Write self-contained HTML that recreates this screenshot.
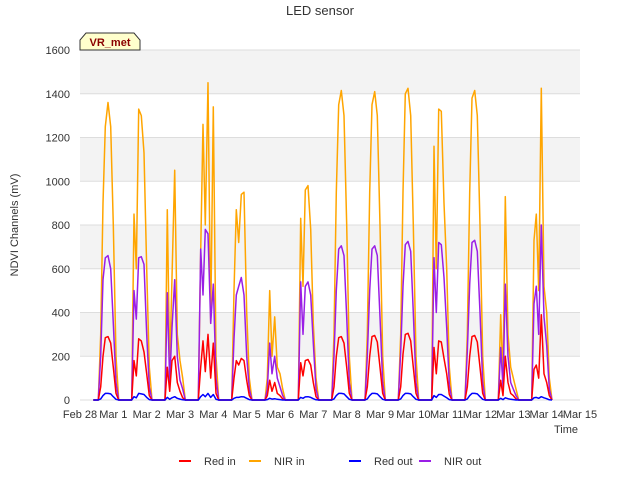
<!DOCTYPE html>
<html><head><meta charset="utf-8"><style>
body{margin:0;background:#fff;font-family:"Liberation Sans",sans-serif}
</style></head><body>
<svg id="chart" width="640" height="480" xmlns="http://www.w3.org/2000/svg" font-family="Liberation Sans, sans-serif">
<rect width="640" height="480" fill="#fff"/>
<g id="bands"></g>
<g id="grid"></g>
<g id="series"></g>
<g id="axes"></g>
<text x="320" y="15" text-anchor="middle" font-size="13" fill="#333">LED sensor</text>
<text x="18" y="225" text-anchor="middle" font-size="11" fill="#333" transform="rotate(-90 18 225)">NDVI Channels (mV)</text>
<text x="566" y="433" text-anchor="middle" font-size="11" fill="#333">Time</text>
<g>
<path d="M80,50 L80,40 L86,33 L134,33 L140,40 L140,50 Z" fill="#ffffcc" stroke="#333"/>
<text x="110" y="46" text-anchor="middle" font-size="11" font-weight="bold" fill="#8b0000">VR_met</text>
</g>
<g id="legend"></g>
</svg>
<script>
const yTicks=[0,200,400,600,800,1000,1200,1400,1600];
const xLabels=["Feb 28","Mar 1","Mar 2","Mar 3","Mar 4","Mar 5","Mar 6","Mar 7","Mar 8","Mar 9","Mar 10","Mar 11","Mar 12","Mar 13","Mar 14","Mar 15"];
const sampleOffsets=[0.55,0.62,0.69,0.76,0.84,0.92,1.0,1.08,1.16];
const nirIn=[
[0,300,900,1250,1360,1250,800,200,0],
[0,850,600,1330,1300,1130,600,150,0],
[0,870,150,560,1050,300,180,100,0],
[0,680,1260,800,1450,350,1340,200,0],
[0,500,870,720,940,950,400,100,0],
[0,100,500,200,380,150,120,50,0],
[0,830,520,960,980,780,350,100,0],
[0,300,950,1350,1415,1300,800,200,0],
[0,300,950,1350,1410,1300,800,200,0],
[0,300,950,1400,1425,1300,800,200,0],
[0,1160,600,1330,1320,900,600,150,0],
[0,300,950,1380,1415,1300,800,200,0],
[0,390,100,930,300,150,100,50,0],
[0,730,850,500,1425,520,400,100,0]];
const nirOut=[
[0,200,550,650,660,600,350,80,0],
[0,500,370,650,655,620,300,60,0],
[0,490,80,330,550,200,90,50,0],
[0,690,480,780,760,350,530,100,0],
[0,280,480,520,560,480,200,50,0],
[0,50,260,120,200,100,60,20,0],
[0,540,300,520,540,480,260,50,0],
[0,200,500,690,705,660,380,80,0],
[0,200,500,690,705,660,380,80,0],
[0,220,520,710,725,680,400,80,0],
[0,650,400,720,710,560,330,70,0],
[0,220,530,720,730,680,400,80,0],
[0,240,60,530,200,80,50,20,0],
[0,440,520,300,800,380,250,50,0]];
const redIn=[
[0,60,200,285,290,260,150,30,0],
[0,180,110,280,270,220,120,20,0],
[0,150,40,180,200,80,40,10,0],
[0,150,270,130,300,100,260,30,0],
[0,100,180,160,190,180,90,20,0],
[0,20,90,40,80,30,20,5,0],
[0,170,110,180,185,160,80,15,0],
[0,60,200,285,290,260,150,30,0],
[0,60,200,290,295,265,150,30,0],
[0,60,210,300,305,270,150,30,0],
[0,240,120,270,265,190,120,25,0],
[0,60,200,290,295,265,150,30,0],
[0,90,20,200,80,30,20,5,0],
[0,140,160,100,390,120,80,20,0]];
const redOut=[
[0,5,20,30,30,28,15,3,0],
[0,15,10,30,28,25,12,2,0],
[0,12,3,10,15,8,4,1,0],
[0,15,25,15,30,12,25,3,0],
[0,8,12,12,15,14,8,2,0],
[0,2,8,4,6,3,2,0,0],
[0,12,8,14,15,12,6,1,0],
[0,5,20,30,30,28,15,3,0],
[0,5,20,30,30,28,15,3,0],
[0,5,20,30,30,28,15,3,0],
[0,20,12,25,25,18,10,2,0],
[0,5,20,30,30,28,15,3,0],
[0,8,2,10,6,3,2,0,0],
[0,10,12,8,15,10,6,1,0]];
const svg=document.getElementById('chart');
const NS='http://www.w3.org/2000/svg';
const X0=80,X1=580,Y0=400,Y1=50;
const xS=d=>X0+d*(X1-X0)/15;
const yS=v=>Y0-v*(Y0-Y1)/1600;
function mk(tag,attrs,parent){const e=document.createElementNS(NS,tag);for(const k in attrs)e.setAttribute(k,attrs[k]);parent.appendChild(e);return e;}
const bands=document.getElementById('bands'),grid=document.getElementById('grid'),axes=document.getElementById('axes');
for(let i=0;i<yTicks.length-1;i++){
  const r=mk('rect',{x:X0,y:yS(yTicks[i+1]),width:X1-X0,height:yS(yTicks[i])-yS(yTicks[i+1]),fill:i%2===1?'#f3f3f3':'#ffffff'},bands);
  
  
}
yTicks.forEach(v=>{
  const l=mk('line',{x1:X0,x2:X1,y1:yS(v),y2:yS(v),stroke:'#dddddd'},grid);
  
  
  const t=mk('text',{x:X0-10,y:yS(v)+4,'text-anchor':'end','font-size':11,fill:'#333'},axes);
  t.textContent=v;
  
  
});
xLabels.forEach((s,i)=>{
  const t=mk('text',{x:xS(i),y:Y0+18,'text-anchor':'middle','font-size':11,fill:'#333'},axes);
  t.textContent=s;
  
  
});
const series=document.getElementById('series');
function draw(arr,color,name){
  let pts=[[xS(0.4),yS(0)]];
  arr.forEach((day,d)=>{day.forEach((v,k)=>pts.push([xS(d+sampleOffsets[k]),yS(v)]));});
  const p=mk('polyline',{points:pts.map(p=>p[0].toFixed(1)+','+p[1].toFixed(1)).join(' '),fill:'none',stroke:color,'stroke-width':1.5,'stroke-linejoin':'round'},series);
  
  
}
draw(nirIn,'#ffa500','nir-in-line');
draw(nirOut,'#9a1ee6','nir-out-line');
draw(redIn,'#ff0000','red-in-line');
draw(redOut,'#0000ff','red-out-line');
const legend=document.getElementById('legend');
[['Red in','#ff0000',185],['NIR in','#ffa500',255],['Red out','#0000ff',355],['NIR out','#9a1ee6',425]].forEach(([n,c,x])=>{
  const g=mk('g',{},legend);
  
  
  mk('line',{x1:x-6,x2:x+6,y1:461,y2:461,stroke:c,'stroke-width':2},g);
  const t=mk('text',{x:x+19,y:465,'font-size':11,fill:'#333'},g);
  t.textContent=n;
});
</script>
</body></html>
